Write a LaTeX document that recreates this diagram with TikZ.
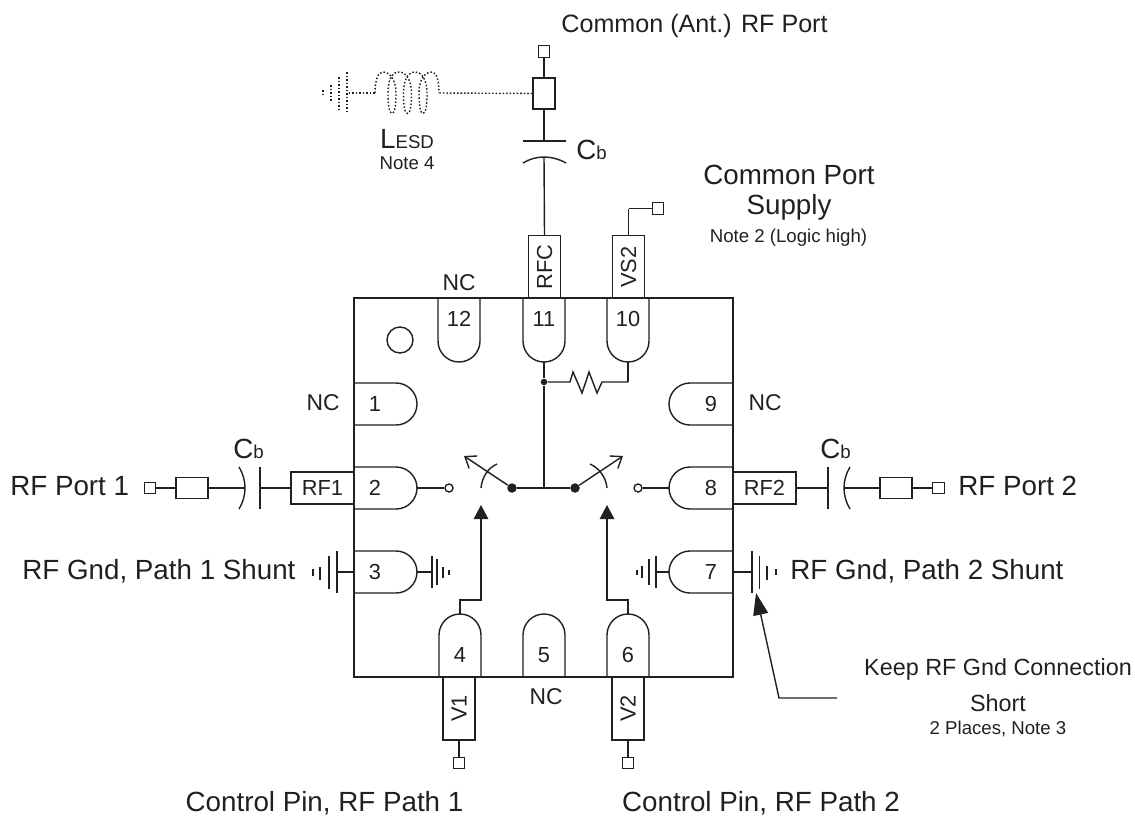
\documentclass[tikz,border=0pt]{standalone}
\usepackage{fontspec}
\setmainfont{Liberation Sans}
\usetikzlibrary{arrows.meta}
\definecolor{ink}{HTML}{231F20}
\newcommand{\bigtext}{\fontsize{15.8}{18}\selectfont}
\newcommand{\toptext}{\fontsize{14.3}{17}\selectfont}
\newcommand{\midtext}{\fontsize{13.3}{15}\selectfont}
\newcommand{\pintext}{\fontsize{12.4}{14}\selectfont}
\newcommand{\nctext}{\fontsize{13}{15}\selectfont}
\newcommand{\smalltext}{\fontsize{10.6}{12}\selectfont}
\tikzset{
	wire/.style={draw=ink, line width=0.8pt},
	esdwire/.style={draw=ink, line width=0.8pt, dash pattern=on 0.9pt off 1.1pt},
	term/.style={draw=ink, line width=0.8pt, minimum size=0.23cm, inner sep=0pt},
	padbox/.style={draw=ink, line width=0.8pt, minimum width=1.26cm, minimum height=0.64cm, inner sep=0pt, text=ink, font=\pintext},
	tee/.style={draw=ink, line width=0.8pt, minimum width=0.64cm, minimum height=0.42cm, inner sep=0pt},
	lbl/.style={text=ink, inner sep=0pt, font=\bigtext},
	nclbl/.style={text=ink, inner sep=0pt, font=\nctext},
	num/.style={text=ink, inner sep=0pt, font=\pintext},
	notelbl/.style={text=ink, inner sep=0pt, font=\smalltext},
	keeplbl/.style={text=ink, inner sep=0pt, font=\midtext},
	dot/.style={circle, fill=ink, inner sep=0pt, minimum size=#1},
	contact/.style={circle, draw=ink, line width=0.8pt, inner sep=0pt, minimum size=0.16cm},
	ctrl/.style={wire, -{Triangle[length=0.28cm, width=0.29cm]}},
	arm/.style={wire, -{Straight Barb[length=0.2cm, width=0.3cm]}}
}
\begin{document}
\begin{tikzpicture}[x=0.02cm, y=-0.02cm]
	\useasboundingbox (0,0) rectangle (1135,815);

	% package
	\draw[wire] (354,298) rectangle (733,677);
	\draw[wire] (400,340) circle[radius=13];

	\foreach \x/\n in {459/12, 544/11, 628/10} {
		\draw[wire] (\x-21,298) -- (\x-21,341) arc[start angle=180, end angle=0, radius=21] -- (\x+21,298);
		\node[num] (pin\n) at (\x,319) {\n};
		\coordinate (tip\n) at (\x,362);
	}
	\foreach \y/\n in {404/1, 488/2, 572/3} {
		\draw[wire] (354,\y-21) -- (396,\y-21) arc[start angle=-90, end angle=90, radius=21] -- (354,\y+21);
		\node[num] (pin\n) at (375,\y) {\n};
		\coordinate (tip\n) at (417,\y);
	}
	\foreach \y/\n in {404/9, 488/8, 572/7} {
		\draw[wire] (733,\y-21) -- (690,\y-21) arc[start angle=-90, end angle=-270, radius=21] -- (733,\y+21);
		\node[num] (pin\n) at (711,\y) {\n};
		\coordinate (tip\n) at (669,\y);
	}
	\foreach \x/\n in {460/4, 544/5, 628/6} {
		\draw[wire] (\x-21,677) -- (\x-21,635) arc[start angle=180, end angle=360, radius=21] -- (\x+21,677);
		\node[num] (pin\n) at (\x,655) {\n};
		\coordinate (tip\n) at (\x,614);
	}

	% pads
	\node[padbox, rotate=90] (rfc) at (544.5,267) {RFC};
	\node[padbox, rotate=90] (vs2) at (628.5,267) {VS2};
	\node[padbox, rotate=90] (v1) at (459,708.5) {V1};
	\node[padbox, rotate=90] (v2) at (628,708.5) {V2};
	\node[padbox] (rf1) at (322.5,488) {RF1};
	\node[padbox] (rf2) at (764.5,488) {RF2};

	\node[term] (tcom) at (544,51.5) {};
	\node[term] (tvs) at (658,208.5) {};
	\node[term] (tv1) at (459,763) {};
	\node[term] (tv2) at (628,763) {};
	\node[term] (tp1) at (150,488) {};
	\node[term] (tp2) at (938.5,488) {};

	\node[tee, rotate=90, minimum width=0.62cm, minimum height=0.44cm] (tcb) at (544,93.5) {};
	\node[tee] (tb1) at (192,488) {};
	\node[tee] (tb2) at (896,488) {};

	% common port
	\coordinate (cp0) at (544,141);
	\coordinate (cp1) at (544,157);
	\draw[wire] (tcom) to (tcb);
	\draw[wire] (tcb) to (cp0);
	\draw[wire] (523,141) -- (566,141);
	\draw[wire] (523,163) .. controls (536,155) and (552,155) .. (566,163);
	\draw[wire] (cp1) to (rfc.east);

	% esd branch
	\coordinate (lr) at (439,93);
	\coordinate (ll) at (375,93);
	\coordinate (eg) at (347,93);
	\draw[esdwire] (tcb.north) to (lr);
	\draw[esdwire] (ll) to (eg);
	\draw[esdwire] (ll) .. controls (375,80) and (378,72) .. (383,72)
		.. controls (391,72) and (396,82) .. (396,93) .. controls (396,104) and (395,113.5) .. (392,113.5)
		.. controls (389,113.5) and (388,104) .. (388,93) .. controls (388,82) and (391,72) .. (399,72)
		.. controls (407,72) and (411.5,82) .. (411.5,93) .. controls (411.5,104) and (410.5,113.5) .. (407.5,113.5)
		.. controls (404.5,113.5) and (403.5,104) .. (403.5,93) .. controls (403.5,82) and (407,72) .. (415,72)
		.. controls (423,72) and (427,82) .. (427,93) .. controls (427,104) and (426,113.5) .. (423,113.5)
		.. controls (420,113.5) and (419,104) .. (419,93) .. controls (419,82) and (423,72) .. (432,72)
		.. controls (437,72) and (439,82) .. (lr);
	\foreach \x/\a/\b in {347/72/114, 339/77/109, 331/85/102, 323/90/97}
		\draw[esdwire] (\x,\a) -- (\x,\b);

	% supply
	\coordinate (vsc) at (628.5,208.5);
	\draw[wire] (vs2.east) to (vsc);
	\draw[wire] (vsc) to (tvs);

	% internal
	\node[dot=0.13cm] (jn) at (544,382) {};
	\coordinate (sw) at (544,488);
	\coordinate (rc) at (628,382);
	\draw[wire] (tip11) to (jn);
	\draw[wire] (jn) to (sw);
	\draw[wire] (jn) -- (570,382) -- (573,372) -- (582,393) -- (589,372) -- (597,393) -- (602,382) -- (rc);
	\draw[wire] (rc) to (tip10);

	\node[dot=0.19cm] (s1) at (512,488) {};
	\node[dot=0.19cm] (s2) at (575,488) {};
	\node[contact] (c1) at (449,488) {};
	\node[contact] (c2) at (638,488) {};
	\coordinate (a1) at (464,456);
	\coordinate (a2) at (623,456);
	\draw[wire] (s1) to (s2);
	\draw[arm] (s1) to (a1);
	\draw[arm] (s2) to (a2);
	\draw[wire] (481,488) .. controls (482,477) and (488,468) .. (497,464);
	\draw[wire] (607,488) .. controls (606,477) and (599,468) .. (590,464);
	\draw[wire] (tip2) to (c1);
	\draw[wire] (tip8) to (c2);

	% control lines
	\coordinate (k1) at (460,600);
	\coordinate (k2) at (481,600);
	\coordinate (k3) at (628,600);
	\coordinate (k4) at (607,600);
	\coordinate (h1) at (481,505);
	\coordinate (h2) at (607,505);
	\draw[ctrl] (tip4) -- (k1) -- (k2) -- (h1);
	\draw[ctrl] (tip6) -- (k3) -- (k4) -- (h2);
	\draw[wire] (v1.west) to (tv1);
	\draw[wire] (v2.west) to (tv2);

	% rf port 1
	\coordinate (c1a) at (245,488);
	\coordinate (c1b) at (260,488);
	\draw[wire] (tp1) to (tb1);
	\draw[wire] (tb1) to (c1a);
	\draw[wire] (239,467) .. controls (247,480) and (247,496) .. (239,509);
	\draw[wire] (260,467) -- (260,509);
	\draw[wire] (c1b) to (rf1);

	% rf port 2
	\coordinate (c2a) at (828,488);
	\coordinate (c2b) at (844,488);
	\draw[wire] (rf2) to (c2a);
	\draw[wire] (828,467) -- (828,509);
	\draw[wire] (850,467) .. controls (842,480) and (842,496) .. (850,509);
	\draw[wire] (c2b) to (tb2);
	\draw[wire] (tb2) to (tp2);

	% grounds
	\coordinate (g1) at (337,572);
	\coordinate (g2) at (432,572);
	\coordinate (g3) at (656,572);
	\coordinate (g4) at (752,572);
	\coordinate (e3) at (354,572);
	\coordinate (e7) at (733,572);
	\draw[wire] (e3) to (g1);
	\draw[wire] (tip3) to (g2);
	\draw[wire] (tip7) to (g3);
	\draw[wire] (e7) to (g4);
	\foreach \x/\a/\b in {337/551/593, 329/556/589, 320/567/580, 313/569/576,
		432/556/588, 437/559/585, 443/567/578, 449/570/575,
		656/556/588, 649/559/585, 642/566/578, 637/570/575,
		752/551/593, 759.5/556/589, 767/566/580, 776/569/575}
		\draw[wire] (\x,\a) -- (\x,\b);

	% note arrow
	\coordinate (n0) at (837,698);
	\coordinate (n1) at (779,698);
	\coordinate (n2) at (756,593);
	\draw[wire, -{Triangle[length=0.44cm, width=0.3cm]}] (n0) -- (n1) -- (n2);

	% labels
	\node[text=ink, inner sep=0pt, font=\toptext] (lcom) at (694.5,26) {Common (Ant.) RF Port};
	\node[lbl, anchor=west] (cbt) at (576,150) {C{\smalltext b}};
	\node[lbl] (lesd) at (407,139) {L{\smalltext ESD}};
	\node[notelbl] (note4) at (407,163) {Note 4};
	\node[lbl] (lcs1) at (789,175) {Common Port};
	\node[lbl] (lcs2) at (789,207) {Supply};
	\node[notelbl] (note2) at (788.5,238) {Note 2 (Logic high)};
	\node[nclbl] (nc12) at (459,283) {NC};
	\node[nclbl] (nc1) at (323,403) {NC};
	\node[nclbl] (nc9) at (765,403) {NC};
	\node[nclbl] (nc5) at (546,697) {NC};
	\node[lbl, anchor=west] (cbl) at (233,449) {C{\smalltext b}};
	\node[lbl, anchor=west] (cbr) at (820,449) {C{\smalltext b}};
	\node[lbl, anchor=west] (lp1) at (10,486) {RF Port 1};
	\node[lbl, anchor=west] (lp2) at (958,486) {RF Port 2};
	\node[lbl, anchor=west] (lg1) at (22,571) {RF Gnd, Path 1 Shunt};
	\node[lbl, anchor=west] (lg2) at (790,571) {RF Gnd, Path 2 Shunt};
	\node[lbl] (lc1) at (324.5,803) {Control Pin, RF Path 1};
	\node[lbl] (lc2) at (761,803) {Control Pin, RF Path 2};
	\node[keeplbl] (lk1) at (998,669) {Keep RF Gnd Connection};
	\node[keeplbl] (lk2) at (998,703) {Short};
	\node[notelbl] (note3) at (998,729) {2 Places, Note 3};
\end{tikzpicture}
\end{document}
